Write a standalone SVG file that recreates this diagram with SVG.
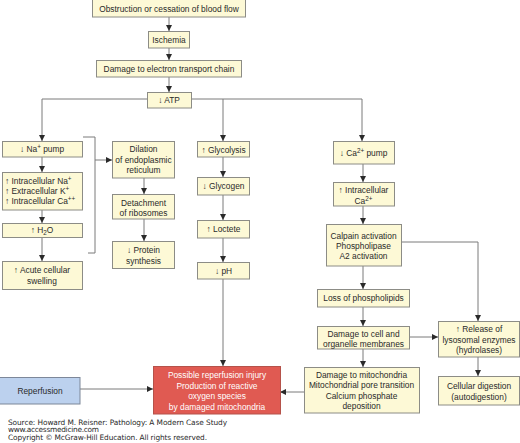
<svg xmlns="http://www.w3.org/2000/svg" width="520" height="443" viewBox="0 0 520 443">
<style>
.b{fill:#fdf9d6;stroke:#8c8c86;stroke-width:1}
.t{font-family:"Liberation Sans",Arial,sans-serif;font-size:8.4px;fill:#2a2a2a;text-anchor:middle}
.l{text-anchor:start}
.c{fill:none;stroke:#7a7a7a;stroke-width:1}
.w{fill:#fff}
.s{font-family:"DejaVu Sans",Verdana,sans-serif;font-size:7.4px;fill:#2a2a2a}
.p{font-size:6.3px}
</style>
<defs>
<marker id="a" markerUnits="userSpaceOnUse" markerWidth="6" markerHeight="6" viewBox="0 0 6 6" refX="6" refY="3" orient="auto">
<path d="M0,0 L6,3 L0,6 Z" fill="#2a2a2a"/>
</marker>
</defs>
<rect width="520" height="443" fill="#fff"/>
<g id="connectors" class="c">
<path d="M169,17 V31" marker-end="url(#a)"/>
<path d="M169,48 V60" marker-end="url(#a)"/>
<path d="M169,77 V92" marker-end="url(#a)"/>
<path d="M147,99 H42 V141" marker-end="url(#a)"/>
<path d="M191,99 H362 V141" marker-end="url(#a)"/>
<path d="M223,99 V141" marker-end="url(#a)"/>
<path d="M42,157 V172" marker-end="url(#a)"/>
<path d="M42,210 V223" marker-end="url(#a)"/>
<path d="M42,237 V261" marker-end="url(#a)"/>
<path d="M83,137 H95 V253 H88"/>
<path d="M95,160 H112" marker-end="url(#a)"/>
<path d="M144,178 V194" marker-end="url(#a)"/>
<path d="M144,219 V241" marker-end="url(#a)"/>
<path d="M223,157 V177" marker-end="url(#a)"/>
<path d="M223,195 V220" marker-end="url(#a)"/>
<path d="M223,238 V262" marker-end="url(#a)"/>
<path d="M223,279 V366" marker-end="url(#a)"/>
<path d="M363,164 V182" marker-end="url(#a)"/>
<path d="M363,206 V224" marker-end="url(#a)"/>
<path d="M401,242 H478 V321" marker-end="url(#a)"/>
<path d="M363,266 V289" marker-end="url(#a)"/>
<path d="M363,307 V326" marker-end="url(#a)"/>
<path d="M409,337 H438" marker-end="url(#a)"/>
<path d="M478,357 V376" marker-end="url(#a)"/>
<path d="M363,349 V367" marker-end="url(#a)"/>
<path d="M304,392 H280" marker-end="url(#a)"/>
<path d="M80,389 H153" marker-end="url(#a)"/>
</g>
<g id="obstruction"><rect class="b" x="92.5" y="-0.5" width="153" height="17.5"/><text class="t" x="169" y="12">Obstruction or cessation of blood flow</text></g>
<g id="ischemia"><rect class="b" x="148.5" y="31.5" width="41" height="16.5"/><text class="t" x="169" y="42.5">Ischemia</text></g>
<g id="etc"><rect class="b" x="96.5" y="60.5" width="145" height="16.5"/><text class="t" x="169" y="71.5">Damage to electron transport chain</text></g>
<g id="atp"><rect class="b" x="147.5" y="92.5" width="44" height="15.5"/><text class="t" x="169" y="103">↓ ATP</text></g>
<g id="napump"><rect class="b" x="2.5" y="141.5" width="80" height="15.5"/><text class="t" x="42" y="152">↓ Na<tspan class="p" dy="-3">+</tspan><tspan dy="3"> pump</tspan></text></g>
<g id="intracellular"><rect class="b" x="2.5" y="172.5" width="80" height="37.5"/>
<text class="t l" x="5" y="184">↑ Intracellular Na<tspan class="p" dy="-3">+</tspan></text>
<text class="t l" x="5" y="194">↑ Extracellular K<tspan class="p" dy="-3">+</tspan></text>
<text class="t l" x="5" y="204">↑ Intracellular Ca<tspan class="p" dy="-3">++</tspan></text></g>
<g id="h2o"><rect class="b" x="2.5" y="223.5" width="80" height="14"/><text class="t" x="42" y="233">↑ H<tspan class="p" dy="2">2</tspan><tspan dy="-2">O</tspan></text></g>
<g id="swelling"><rect class="b" x="2.5" y="261.5" width="80" height="28"/><text class="t" x="42" y="273">↑ Acute cellular</text><text class="t" x="42" y="284">swelling</text></g>
<g id="er"><rect class="b" x="112.5" y="141.5" width="62" height="36.5"/><text class="t" x="143.5" y="152">Dilation</text><text class="t" x="143.5" y="162.5">of endoplasmic</text><text class="t" x="143.5" y="173">reticulum</text></g>
<g id="ribosomes"><rect class="b" x="112.5" y="194.5" width="62" height="24.5"/><text class="t" x="143.5" y="205.5">Detachment</text><text class="t" x="143.5" y="216">of ribosomes</text></g>
<g id="protein"><rect class="b" x="112.5" y="241.5" width="62" height="27"/><text class="t" x="143.5" y="253">↓ Protein</text><text class="t" x="143.5" y="263.5">synthesis</text></g>
<g id="glycolysis"><rect class="b" x="197.5" y="141.5" width="52" height="15.5"/><text class="t" x="223.5" y="152.5">↑ Glycolysis</text></g>
<g id="glycogen"><rect class="b" x="197.5" y="177.5" width="52" height="17.5"/><text class="t" x="223.5" y="189">↓ Glycogen</text></g>
<g id="loctete"><rect class="b" x="197.5" y="220.5" width="52" height="17.5"/><text class="t" x="223.5" y="232">↑ Loctete</text></g>
<g id="ph"><rect class="b" x="197.5" y="262.5" width="52" height="16.5"/><text class="t" x="223.5" y="273.5">↓ pH</text></g>
<g id="capump"><rect class="b" x="333.5" y="141.5" width="61" height="22.5"/><text class="t" x="363.5" y="156">↓ Ca<tspan class="p" dy="-3">2+</tspan><tspan dy="3"> pump</tspan></text></g>
<g id="intraca"><rect class="b" x="333.5" y="182.5" width="61" height="23.5"/><text class="t" x="363.5" y="193">↑ Intracellular</text><text class="t" x="363.5" y="203.5">Ca<tspan class="p" dy="-3">2+</tspan></text></g>
<g id="calpain"><rect class="b" x="326.5" y="224.5" width="75" height="41.5"/><text class="t" x="363.5" y="239">Calpain activation</text><text class="t" x="363.5" y="249">Phospholipase</text><text class="t" x="363.5" y="259">A2 activation</text></g>
<g id="phospholipids"><rect class="b" x="317.5" y="289.5" width="92" height="17.5"/><text class="t" x="363.5" y="301">Loss of phospholipids</text></g>
<g id="membranes"><rect class="b" x="317.5" y="326.5" width="92" height="22.5"/><text class="t" x="363.5" y="336.5">Damage to cell and</text><text class="t" x="363.5" y="346.5">organelle membranes</text></g>
<g id="lysosomal"><rect class="b" x="438.5" y="321.5" width="81" height="35.5"/><text class="t" x="479" y="332">↑ Release of</text><text class="t" x="479" y="342.5">lysosomal enzymes</text><text class="t" x="479" y="353">(hydrolases)</text></g>
<g id="digestion"><rect class="b" x="438.5" y="376.5" width="81" height="28.5"/><text class="t" x="479" y="389">Cellular digestion</text><text class="t" x="479" y="399.5">(autodigestion)</text></g>
<g id="mitochondria"><rect class="b" x="304.5" y="367.5" width="115" height="45.5"/><text class="t" x="361.5" y="377.5">Damage to mitochondria</text><text class="t" x="361.5" y="388">Mitochondrial pore transition</text><text class="t" x="361.5" y="398.5">Calcium phosphate</text><text class="t" x="361.5" y="408.5">deposition</text></g>
<g id="reperfusioninjury"><rect x="153.5" y="366.5" width="127" height="47.5" fill="#e05a52" stroke="#b5524a"/><text class="t w" x="217" y="378">Possible reperfusion injury</text><text class="t w" x="217" y="388.5">Production of reactive</text><text class="t w" x="217" y="399">oxygen species</text><text class="t w" x="217" y="409.5">by damaged mitochondria</text></g>
<g id="reperfusion"><rect x="-0.5" y="377.5" width="80.5" height="26.5" fill="#bcd1ee" stroke="#7d8799"/><text class="t" x="40" y="394">Reperfusion</text></g>
<g id="source">
<text class="s" x="8" y="424.5" textLength="219" lengthAdjust="spacing">Source: Howard M. Reisner: Pathology: A Modern Case Study</text>
<text class="s" x="8" y="432" textLength="91" lengthAdjust="spacing">www.accessmedicine.com</text>
<text class="s" x="8" y="439.5" textLength="199" lengthAdjust="spacing">Copyright © McGraw-Hill Education.  All rights reserved.</text>
</g>
</svg>
